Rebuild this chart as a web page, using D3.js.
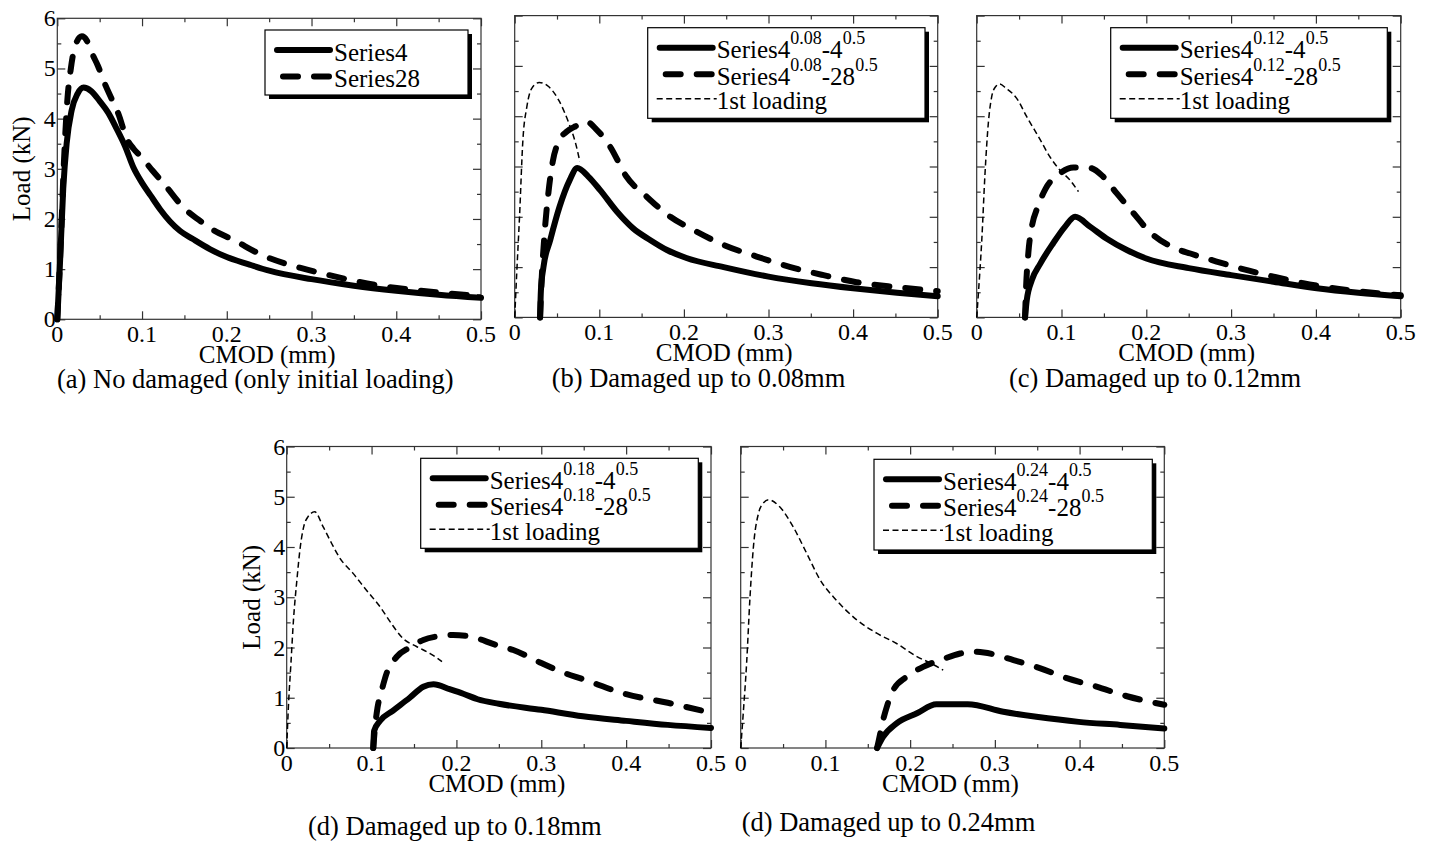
<!DOCTYPE html>
<html><head><meta charset="utf-8">
<script src="https://cdn.jsdelivr.net/npm/d3@7"></script>
<style>body{margin:0;background:#fff}svg{display:block}text{font-family:"Liberation Serif","Times New Roman",serif;fill:#000}</style>
</head><body>
<svg id="chart" width="1431" height="848"></svg>
<script>
// ---- data ----
const xTicks = [0, 0.1, 0.2, 0.3, 0.4, 0.5];
const yTicks = [0, 1, 2, 3, 4, 5, 6];
const xTickLabels = ["0", "0.1", "0.2", "0.3", "0.4", "0.5"];
const yTickLabels = ["0", "1", "2", "3", "4", "5", "6"];
const xTitle = "CMOD (mm)";
const yTitle = "Load (kN)";
const captions = [
  "(a) No damaged (only initial loading)",
  "(b) Damaged up to 0.08mm",
  "(c) Damaged up to 0.12mm",
  "(d) Damaged up to 0.18mm",
  "(d) Damaged up to 0.24mm"
];
const damageLevels = ["0.08", "0.12", "0.18", "0.24"];

const a_series4 = [[0,0],[0.003,1.05],[0.007,2.6],[0.011,3.5],[0.017,4.17],[0.024,4.5],[0.031,4.62],[0.04,4.55],[0.05,4.35],[0.06,4.12],[0.07,3.8],[0.08,3.45],[0.09,3.02],[0.1,2.72],[0.11,2.47],[0.121,2.2],[0.133,1.95],[0.145,1.76],[0.16,1.6],[0.18,1.4],[0.2,1.24],[0.225,1.1],[0.25,0.97],[0.3,0.8],[0.35,0.67],[0.4,0.57],[0.45,0.49],[0.5,0.43]];
const a_series28 = [[0,0],[0.004,1.5],[0.008,3.2],[0.012,4.4],[0.016,5.0],[0.021,5.45],[0.029,5.64],[0.035,5.55],[0.041,5.3],[0.048,5.05],[0.056,4.7],[0.064,4.4],[0.072,4.1],[0.082,3.6],[0.09,3.4],[0.1,3.22],[0.112,2.97],[0.125,2.72],[0.15,2.21],[0.167,1.98],[0.184,1.78],[0.208,1.58],[0.243,1.27],[0.286,1.03],[0.316,0.9],[0.349,0.77],[0.388,0.65],[0.424,0.58],[0.459,0.52],[0.5,0.46]];

const b_first = [[0,0],[0.0024,0.88],[0.0057,2.0],[0.0097,3.53],[0.0144,4.19],[0.02,4.55],[0.029,4.67],[0.04,4.59],[0.052,4.32],[0.064,3.86],[0.072,3.46],[0.077,3.1]];
const b_series4 = [[0.03,0],[0.031,0.54],[0.034,1.0],[0.042,1.54],[0.053,2.2],[0.065,2.73],[0.074,2.97],[0.087,2.8],[0.101,2.53],[0.121,2.1],[0.14,1.77],[0.16,1.54],[0.18,1.34],[0.203,1.18],[0.247,1.0],[0.3,0.81],[0.351,0.68],[0.4,0.58],[0.452,0.49],[0.5,0.42]];
const b_series28 = [[0.03,0],[0.032,0.8],[0.035,1.6],[0.04,2.5],[0.045,3.1],[0.052,3.5],[0.062,3.7],[0.072,3.8],[0.085,3.89],[0.097,3.73],[0.113,3.39],[0.132,2.8],[0.156,2.4],[0.184,2.0],[0.211,1.74],[0.247,1.44],[0.286,1.21],[0.326,1.0],[0.365,0.84],[0.404,0.7],[0.452,0.6],[0.5,0.52]];

const c_first = [[0,0],[0.002,0.48],[0.006,1.54],[0.0098,2.86],[0.0137,3.86],[0.0177,4.39],[0.022,4.58],[0.027,4.64],[0.035,4.55],[0.047,4.36],[0.059,3.99],[0.075,3.53],[0.086,3.2],[0.098,2.93],[0.11,2.73],[0.12,2.5]];
const c_series4 = [[0.057,0],[0.059,0.34],[0.065,0.74],[0.075,1.07],[0.09,1.47],[0.104,1.8],[0.116,2.0],[0.134,1.8],[0.153,1.57],[0.177,1.34],[0.2,1.17],[0.25,0.98],[0.3,0.84],[0.35,0.71],[0.401,0.58],[0.45,0.49],[0.5,0.42]];
const c_series28 = [[0.057,0],[0.058,0.5],[0.061,1.3],[0.065,1.8],[0.072,2.2],[0.081,2.55],[0.098,2.86],[0.114,2.98],[0.134,2.97],[0.149,2.8],[0.165,2.47],[0.185,2.07],[0.204,1.7],[0.236,1.36],[0.252,1.27],[0.283,1.11],[0.314,0.96],[0.35,0.81],[0.385,0.68],[0.413,0.6],[0.45,0.52],[0.5,0.44]];

const d_first = [[0,0],[0.002,0.82],[0.005,1.69],[0.008,2.55],[0.012,3.34],[0.016,4.0],[0.02,4.4],[0.025,4.6],[0.033,4.7],[0.043,4.4],[0.053,4.07],[0.063,3.77],[0.078,3.48],[0.094,3.14],[0.11,2.81],[0.122,2.51],[0.137,2.18],[0.153,2.02],[0.169,1.88],[0.183,1.72]];
const d_series4 = [[0.102,0],[0.103,0.34],[0.11,0.54],[0.125,0.74],[0.145,1.0],[0.161,1.22],[0.173,1.27],[0.192,1.17],[0.208,1.08],[0.225,0.97],[0.25,0.88],[0.3,0.76],[0.349,0.63],[0.4,0.54],[0.449,0.46],[0.5,0.4]];
const d_series28 = [[0.102,0],[0.104,0.4],[0.107,0.8],[0.112,1.15],[0.118,1.5],[0.13,1.82],[0.145,2.0],[0.161,2.15],[0.177,2.22],[0.196,2.25],[0.216,2.22],[0.247,2.05],[0.267,1.95],[0.3,1.69],[0.326,1.5],[0.349,1.37],[0.4,1.07],[0.449,0.9],[0.5,0.7]];

const e_first = [[0,0],[0.003,0.69],[0.007,1.69],[0.011,3.01],[0.015,4.0],[0.021,4.67],[0.027,4.88],[0.033,4.94],[0.046,4.8],[0.062,4.4],[0.078,3.87],[0.094,3.34],[0.113,2.94],[0.137,2.55],[0.161,2.28],[0.184,2.08],[0.208,1.82],[0.225,1.68],[0.239,1.55]];
const e_series4 = [[0.161,0],[0.168,0.22],[0.184,0.49],[0.208,0.69],[0.231,0.87],[0.259,0.87],[0.268,0.87],[0.31,0.72],[0.349,0.62],[0.399,0.52],[0.448,0.46],[0.5,0.39]];
const e_series28 = [[0.161,0],[0.163,0.15],[0.168,0.55],[0.173,0.85],[0.18,1.15],[0.196,1.42],[0.216,1.62],[0.239,1.77],[0.259,1.88],[0.272,1.92],[0.287,1.9],[0.322,1.75],[0.353,1.59],[0.385,1.39],[0.42,1.22],[0.456,1.03],[0.5,0.86]];

// ---- styles ----
const styles = {
  solid: {w: 6, dash: null},
  dash:  {w: 6, dash: "15,16"},
  thin:  {w: 1.5, dash: "6,3.5"}
};

function legendFor(level) {
  return [
    {style: "solid", parts: [["Series4", 0], [level, 1], ["-4", 0], ["0.5", 1]]},
    {style: "dash",  parts: [["Series4", 0], [level, 1], ["-28", 0], ["0.5", 1]]},
    {style: "thin",  parts: [["1st loading", 0]]}
  ];
}

const panels = [
  {left: 57.3, right: 481, top: 18.3, bottom: 319.3, yLabels: true,
   series: [{d: a_series4, s: "solid"}, {d: a_series28, s: "dash"}],
   legend: {x: 265, y: 30, w: 203, h: 65, rows: [{style: "solid", parts: [["Series4", 0]]}, {style: "dash", parts: [["Series28", 0]]}]},
   cap: {text: captions[0], x: 57, y: 388}},
  {left: 514.7, right: 937.7, top: 15.6, bottom: 317.4, yLabels: false,
   series: [{d: b_first, s: "thin"}, {d: b_series4, s: "solid"}, {d: b_series28, s: "dash"}],
   legend: {x: 647.7, y: 27.7, w: 277.3, h: 90.6, rows: legendFor(damageLevels[0])},
   cap: {text: captions[1], x: 551.7, y: 387}},
  {left: 976.7, right: 1400.7, top: 15.6, bottom: 317.4, yLabels: false,
   series: [{d: c_first, s: "thin"}, {d: c_series4, s: "solid"}, {d: c_series28, s: "dash"}],
   legend: {x: 1110.7, y: 27.7, w: 276.6, h: 90.6, rows: legendFor(damageLevels[1])},
   cap: {text: captions[2], x: 1009, y: 387}},
  {left: 286.7, right: 711, top: 446.5, bottom: 748, yLabels: true,
   series: [{d: d_first, s: "thin"}, {d: d_series4, s: "solid"}, {d: d_series28, s: "dash"}],
   legend: {x: 420.7, y: 458.3, w: 277.6, h: 90, rows: legendFor(damageLevels[2])},
   cap: {text: captions[3], x: 308, y: 835}},
  {left: 740.7, right: 1164.3, top: 446.5, bottom: 748, yLabels: false,
   series: [{d: e_first, s: "thin"}, {d: e_series4, s: "solid"}, {d: e_series28, s: "dash"}],
   legend: {x: 874, y: 459.3, w: 278.3, h: 90.7, rows: legendFor(damageLevels[3])},
   cap: {text: captions[4], x: 741.7, y: 830.5}}
];

const svg = d3.select("#chart");
const frameColor = "#333";

panels.forEach(p => {
  const g = svg.append("g");
  const x = d3.scaleLinear().domain([0, 0.5]).range([p.left, p.right]);
  const y = d3.scaleLinear().domain([0, 6]).range([p.bottom, p.top]);
  const W = p.right - p.left, H = p.bottom - p.top;

  g.append("rect").attr("x", p.left).attr("y", p.top).attr("width", W).attr("height", H)
    .attr("fill", "none").attr("stroke", frameColor).attr("stroke-width", 1.2);

  const xMinor = d3.range(0.05, 0.5, 0.1);
  const yMinor = d3.range(0.5, 6, 1);
  const mk = (axis, tr) => g.append("g").attr("transform", tr).call(axis).call(s => {
    s.select(".domain").remove();
    s.selectAll("line").attr("stroke", frameColor).attr("stroke-width", 1.2);
    s.selectAll("text").remove();
  });
  mk(d3.axisBottom(x).tickValues(xTicks).tickSize(-8), `translate(0,${p.bottom})`);
  mk(d3.axisBottom(x).tickValues(xMinor).tickSize(-4), `translate(0,${p.bottom})`);
  mk(d3.axisTop(x).tickValues(xTicks).tickSize(-8), `translate(0,${p.top})`);
  mk(d3.axisTop(x).tickValues(xMinor).tickSize(-4), `translate(0,${p.top})`);
  mk(d3.axisLeft(y).tickValues(yTicks).tickSize(-8), `translate(${p.left},0)`);
  mk(d3.axisLeft(y).tickValues(yMinor).tickSize(-4), `translate(${p.left},0)`);
  mk(d3.axisRight(y).tickValues(yTicks).tickSize(-8), `translate(${p.right},0)`);
  mk(d3.axisRight(y).tickValues(yMinor).tickSize(-4), `translate(${p.right},0)`);

  g.selectAll(".xl").data(xTicks).enter().append("text")
    .attr("x", d => x(d)).attr("y", p.bottom + 23)
    .attr("text-anchor", "middle").attr("font-size", 24)
    .text((d, i) => xTickLabels[i]);
  if (p.yLabels) {
    g.selectAll(".yl").data(yTicks).enter().append("text")
      .attr("x", p.left - 1.5).attr("y", d => y(d) + 8)
      .attr("text-anchor", "end").attr("font-size", 24)
      .text((d, i) => yTickLabels[i]);
    g.append("text")
      .attr("transform", `translate(${p.left - 27},${(p.top + p.bottom) / 2}) rotate(-90)`)
      .attr("text-anchor", "middle").attr("font-size", 25).text(yTitle);
  }
  g.append("text").attr("x", (p.left + p.right) / 2 - 2).attr("y", p.bottom + 43.5)
    .attr("text-anchor", "middle").attr("font-size", 25).text(xTitle);
  g.append("text").attr("x", p.cap.x).attr("y", p.cap.y)
    .attr("font-size", 26.5).text(p.cap.text);

  const line = d3.line().x(d => x(d[0])).y(d => y(d[1])).curve(d3.curveMonotoneX);
  p.series.forEach(s => {
    const st = styles[s.s];
    g.append("path").datum(s.d).attr("d", line)
      .attr("fill", "none").attr("stroke", "#000")
      .attr("stroke-width", st.w)
      .attr("stroke-linecap", s.s === "thin" ? "butt" : "round")
      .attr("stroke-linejoin", "round")
      .attr("stroke-dasharray", st.dash);
  });

  const L = p.legend;
  g.append("rect").attr("x", L.x + 4).attr("y", L.y + 4).attr("width", L.w).attr("height", L.h).attr("fill", "#000");
  g.append("rect").attr("x", L.x).attr("y", L.y).attr("width", L.w).attr("height", L.h)
    .attr("fill", "#fff").attr("stroke", "#000").attr("stroke-width", 1.2);
  const rowY = [20, 46.5, 71];
  L.rows.forEach((r, i) => {
    const ry = L.y + rowY[i];
    const st = styles[r.style];
    let x0 = L.x + 12, x1 = L.x + 65;
    if (r.style === "dash") { x0 = L.x + 18; x1 = L.x + 64; }
    if (r.style === "thin") { x0 = L.x + 9; x1 = L.x + 69; }
    g.append("line").attr("x1", x0).attr("x2", x1).attr("y1", ry).attr("y2", ry)
      .attr("stroke", "#000").attr("stroke-width", st.w)
      .attr("stroke-linecap", r.style === "thin" ? "butt" : "round")
      .attr("stroke-dasharray", st.dash);
    const t = g.append("text").attr("x", L.x + 69).attr("y", ry + 10.5).attr("font-size", 25);
    let raised = false;
    r.parts.forEach(([str, sup]) => {
      const ts = t.append("tspan").text(str);
      if (sup && !raised) { ts.attr("dy", -14).attr("font-size", 18); raised = true; }
      else if (sup) { ts.attr("font-size", 18); }
      else if (!sup && raised) { ts.attr("dy", 14); raised = false; }
    });
  });
});
</script>
</body></html>
